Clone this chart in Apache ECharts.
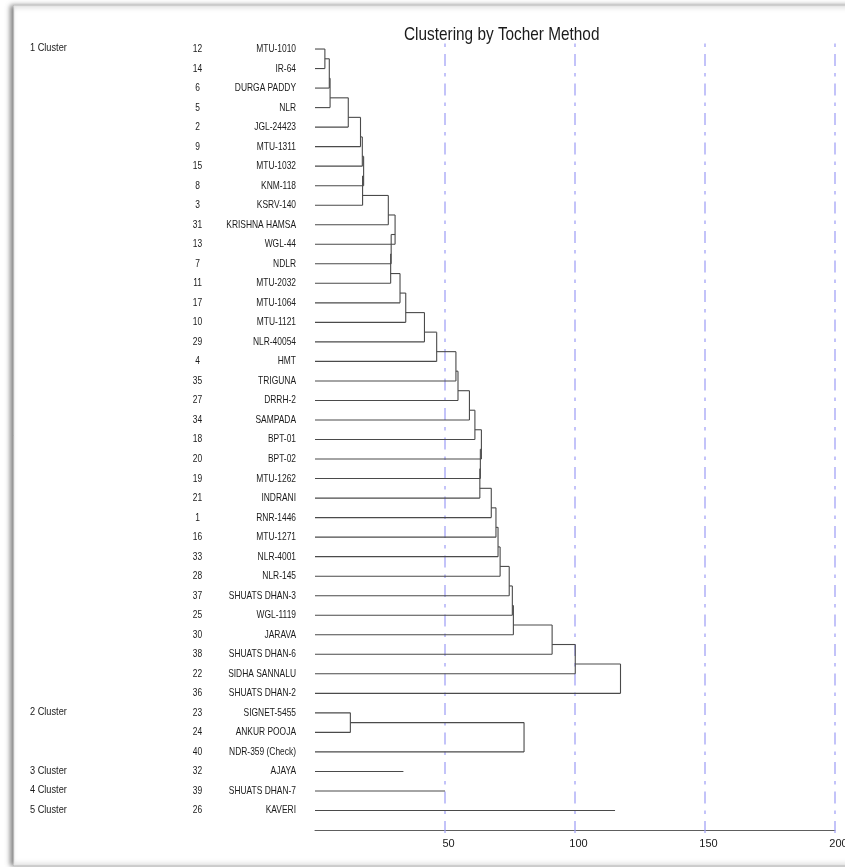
<!DOCTYPE html>
<html>
<head>
<meta charset="utf-8">
<script src="https://cdn.jsdelivr.net/npm/echarts@6/dist/echarts.min.js"></script>
<style>
html,body{margin:0;padding:0;background:#fff;overflow:hidden;}
#chart{width:845px;height:867px;}
</style>
</head>
<body>
<div id="chart"></div>
<script>
// ---- data ----
const titleText = 'Clustering by Tocher Method';
const clusterNames = ['1 Cluster', '2 Cluster', '3 Cluster', '4 Cluster', '5 Cluster'];
const clusterSizes = [34, 3, 1, 1, 1];
const genotypeNo = [12, 14, 6, 5, 2, 9, 15, 8, 3, 31, 13, 7, 11, 17, 10, 29, 4, 35, 27, 34,
  18, 20, 19, 21, 1, 16, 33, 28, 37, 25, 30, 38, 22, 36, 23, 24, 40, 32, 39, 26];
const genotypeName = ['MTU-1010', 'IR-64', 'DURGA PADDY', 'NLR', 'JGL-24423', 'MTU-1311', 'MTU-1032',
  'KNM-118', 'KSRV-140', 'KRISHNA HAMSA', 'WGL-44', 'NDLR', 'MTU-2032', 'MTU-1064', 'MTU-1121',
  'NLR-40054', 'HMT', 'TRIGUNA', 'DRRH-2', 'SAMPADA', 'BPT-01', 'BPT-02', 'MTU-1262', 'INDRANI',
  'RNR-1446', 'MTU-1271', 'NLR-4001', 'NLR-145', 'SHUATS DHAN-3', 'WGL-1119', 'JARAVA',
  'SHUATS DHAN-6', 'SIDHA SANNALU', 'SHUATS DHAN-2', 'SIGNET-5455', 'ANKUR POOJA',
  'NDR-359 (Check)', 'AJAYA', 'SHUATS DHAN-7', 'KAVERI'];
// height at which each successive member joins its cluster (members 2..n)
const cluster1Joins = [3.8, 5.5, 5.8, 12.8, 17.5, 18.2, 18.7, 18.3, 28.2, 30.8, 29.3, 29.1, 32.7,
  34.9, 42.1, 46.8, 54.2, 55.0, 59.4, 61.5, 64.0, 63.6, 63.4, 67.8, 69.6, 70.4, 71.2, 74.7, 75.9,
  76.3, 91.2, 100.1, 117.5];
const cluster2Joins = [13.6, 80.4];
const singletonLengths = [34, 50, 115.4]; // clusters 3, 4, 5
const xTicks = [50, 100, 150, 200];

// ---- build dendrogram segments from data ----
const FONT = "'Liberation Sans',Arial,sans-serif";
const SX = 0.78; // horizontal squeeze of the reference's narrow lettering
const segments = [];
function addCluster(startRow, joins) {
  let px = 0, py = startRow;
  joins.forEach((h, j) => {
    const k = startRow + j + 1;
    segments.push([px, py, h, py]);
    segments.push([0, k, h, k]);
    segments.push([h, py, h, k]);
    px = h; py = k - 0.5;
  });
}
const clusterStart = [];
let r = 1;
clusterSizes.forEach(s => { clusterStart.push(r); r += s; });
addCluster(clusterStart[0], cluster1Joins);
addCluster(clusterStart[1], cluster2Joins);
singletonLengths.forEach((len, i) => {
  const row = clusterStart[2 + i];
  segments.push([0, row, len, row]);
});

const rowData = genotypeNo.map((n, i) => [i + 1, i]);
const refLines = xTicks.map(v => [v]);

function sqText(x, y, text, align, size) {
  return { type: 'text', x: x, y: y, scaleX: SX,
    style: { x: 0, y: 0, text: text, textAlign: align, textVerticalAlign: 'middle',
      fill: '#1a1a1a', font: size + 'px ' + FONT } };
}

const chart = echarts.init(document.getElementById('chart'));
chart.setOption({
  animation: false,
  backgroundColor: '#fff',
  graphic: [{
    type: 'rect', z: -10, silent: true,
    shape: { x: 14, y: 6, width: 850, height: 859 },
    style: { fill: '#fff', stroke: '#e2e2e2', lineWidth: 1, shadowBlur: 5,
      shadowColor: 'rgba(0,0,0,0.5)', shadowOffsetX: -3, shadowOffsetY: 0 }
  }, {
    type: 'text', z: 10, x: 404, y: 34.5, scaleX: 0.83, silent: true,
    style: { x: 0, y: 0, text: titleText, textAlign: 'left', textVerticalAlign: 'middle',
      fill: '#1a1a1a', font: '18.5px ' + FONT }
  }],
  grid: { left: 315, right: 10, top: 29.5, bottom: 37, outerBoundsMode: 'none', containLabel: false },
  xAxis: {
    type: 'value', min: 0, max: 200, interval: 50, position: 'bottom',
    axisLine: { show: true, onZero: false, lineStyle: { color: '#5e5e5e', width: 1 } },
    axisTick: { show: false },
    splitLine: { show: false },
    axisLabel: { showMinLabel: false, showMaxLabel: true, color: '#1a1a1a', fontFamily: FONT,
      fontSize: 11, margin: 8, padding: [0, 0, 0, 7], hideOverlap: false }
  },
  yAxis: { type: 'value', min: 0, max: 41, inverse: true, show: false, splitLine: { show: false } },
  series: [
    {
      type: 'custom', name: 'ref', data: refLines, z: 1,
      encode: { x: 0 },
      renderItem: (params, api) => {
        const v = api.value(0);
        const a = api.coord([v, 41.15]);
        const b = api.coord([v, 0.7]);
        return { type: 'line', shape: { x1: a[0], y1: a[1], x2: b[0], y2: b[1] },
          style: { stroke: '#9c9cf5', lineWidth: 1.2, lineDash: [12, 7, 3.5, 7] } };
      }
    },
    {
      type: 'custom', name: 'dendrogram', data: segments, z: 3,
      encode: { x: [0, 2], y: [1, 3] },
      renderItem: (params, api) => {
        const a = api.coord([api.value(0), api.value(1)]);
        const b = api.coord([api.value(2), api.value(3)]);
        return { type: 'line', shape: { x1: a[0], y1: a[1], x2: b[0], y2: b[1] },
          style: { stroke: '#4a4a4a', lineWidth: 1.1 } };
      }
    },
    {
      type: 'custom', name: 'labels', data: rowData, z: 4, clip: false,
      encode: { y: 0 },
      renderItem: (params, api) => {
        const row = api.value(0);
        const i = api.value(1);
        const p = api.coord([0, row]);
        const children = [
          sqText(p[0] - 117.5, p[1], String(genotypeNo[i]), 'center', 10.8),
          sqText(p[0] - 19, p[1], genotypeName[i], 'right', 10.8)
        ];
        const ci = clusterStart.indexOf(row);
        if (ci >= 0) children.push(sqText(30, p[1] - 1, clusterNames[ci], 'left', 11.8));
        return { type: 'group', children: children };
      }
    }
  ]
});
</script>
</body>
</html>
